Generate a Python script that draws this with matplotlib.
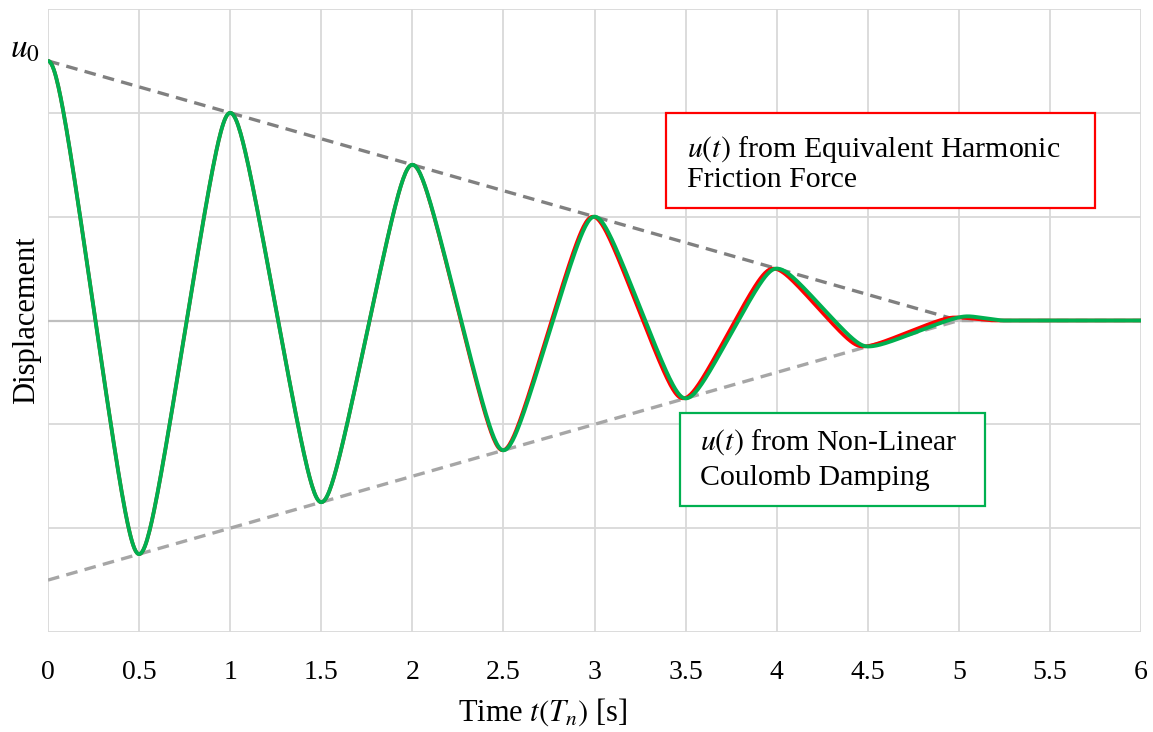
import numpy as np
import matplotlib
matplotlib.use("Agg")
import matplotlib.pyplot as plt
from matplotlib.patches import Rectangle

# =====================================================
# DATA
# =====================================================

# extrema of the Coulomb damping response (green)
t_coulomb = [0, 0.5, 1.0, 1.5, 2.0, 2.5, 3.0, 3.5, 4.0, 4.5, 5.05, 5.25, 6.0]
u_coulomb = [2.5, -2.25, 2.0, -1.75, 1.5, -1.25, 1.0, -0.75, 0.5, -0.25, 0.04, 0.0, 0.0]

# extrema of the equivalent harmonic friction response (red)
t_harmonic = [0, 0.5, 1.0, 1.5, 2.0, 2.495, 2.99, 3.485, 3.98, 4.47, 4.98, 5.2, 6.0]
u_harmonic = [2.5, -2.25, 2.0, -1.75, 1.5, -1.25, 1.0, -0.75, 0.5, -0.25, 0.03, 0.0, 0.0]

# linear envelopes
env_t_upper = [0, 5]
env_u_upper = [2.5, 0]
env_t_lower = [0, 5, 6]
env_u_lower = [-2.5, 0, 0]

x_ticks = [0, 0.5, 1, 1.5, 2, 2.5, 3, 3.5, 4, 4.5, 5, 5.5, 6]
x_tick_labels = ["0", "0.5", "1", "1.5", "2", "2.5", "3", "3.5", "4", "4.5", "5", "5.5", "6"]
u0 = 2.5


def rounded_path(t_pts, u_pts, k=0.9, n=80):
    # near-linear swing between extrema with rounded turning points
    tt, uu = [], []
    for i in range(len(t_pts) - 1):
        s = np.linspace(0, 1, n)
        phi = np.pi * (s - 0.5)
        g = np.arcsin(k * np.sin(phi)) / np.arcsin(k)
        f = (g + 1) / 2
        tt.append(t_pts[i] + (t_pts[i + 1] - t_pts[i]) * s)
        uu.append(u_pts[i] + (u_pts[i + 1] - u_pts[i]) * f)
    return np.concatenate(tt), np.concatenate(uu)


# =====================================================
# STYLE
# =====================================================

plt.rcParams["font.family"] = ["Liberation Serif", "DejaVu Serif"]
plt.rcParams["mathtext.fontset"] = "stix"

W, H = 1153, 732
fig = plt.figure(figsize=(W / 100, H / 100), dpi=100)
ax = fig.add_axes([48 / W, (H - 632) / H, (1141 - 48) / W, (632 - 9) / H])

ax.set_xlim(0, 6)
ax.set_ylim(-3, 3)

for x in x_ticks:
    ax.axvline(x, color="#d9d9d9", lw=1.3, zorder=0)
for y in [-3, -2, -1, 1, 2, 3]:
    ax.axhline(y, color="#d9d9d9", lw=1.3, zorder=0)
ax.axhline(0, color="#bfbfbf", lw=1.6, zorder=0)

for s in ax.spines.values():
    s.set_visible(False)

# =====================================================
# CURVES
# =====================================================

ax.plot(env_t_upper, env_u_upper, color="#808080", lw=2.4,
        dashes=(3.5, 2.2), zorder=1)
ax.plot(env_t_lower, env_u_lower, color="#a6a6a6", lw=2.4,
        dashes=(3.5, 2.2), zorder=1)

th, uh = rounded_path(t_harmonic, u_harmonic)
tc, uc = rounded_path(t_coulomb, u_coulomb)

ax.plot(th, uh, color="#ff0000", lw=2.6, zorder=2,
        solid_capstyle="round")
ax.plot(tc, uc, color="#00b050", lw=2.8, zorder=3,
        solid_capstyle="round")

# =====================================================
# TICKS / LABELS
# =====================================================

ax.set_xticks(x_ticks)
ax.set_xticklabels(x_tick_labels, fontsize=20)
ax.tick_params(axis="x", length=0, pad=20)
ax.set_yticks([])

fig.text(10 / W, 1 - 58 / H, r"$u_0$", fontsize=24,
         ha="left", va="baseline")

fig.text(543 / W, 1 - 712 / H, r"Time $t(T_n)$ [s]", fontsize=22,
         ha="center", va="center")
fig.text(27 / W, 1 - 320 / H, "Displacement", fontsize=22,
         rotation=90, ha="center", va="center")

# =====================================================
# TEXT BOXES
# =====================================================


def px_box(x0, y0, x1, y1, color):
    fig.patches.append(Rectangle((x0 / W, 1 - y1 / H), (x1 - x0) / W,
                                 (y1 - y0) / H, transform=fig.transFigure,
                                 fill=True, facecolor="white",
                                 edgecolor=color, lw=1.6, zorder=5))


px_box(666, 113, 1095, 208, "#ff0000")
fig.text(687 / W, 1 - 157 / H, r"$u(t)$ from Equivalent Harmonic",
         fontsize=21.5, va="baseline", ha="left", zorder=6)
fig.text(687 / W, 1 - 187 / H, "Friction Force",
         fontsize=21.5, va="baseline", ha="left", zorder=6)

px_box(680, 413, 985, 506, "#00b050")
fig.text(700 / W, 1 - 450 / H, r"$u(t)$ from Non-Linear",
         fontsize=21.5, va="baseline", ha="left", zorder=6)
fig.text(700 / W, 1 - 485 / H, "Coulomb Damping",
         fontsize=21.5, va="baseline", ha="left", zorder=6)

fig.savefig("out.png", dpi=100)
